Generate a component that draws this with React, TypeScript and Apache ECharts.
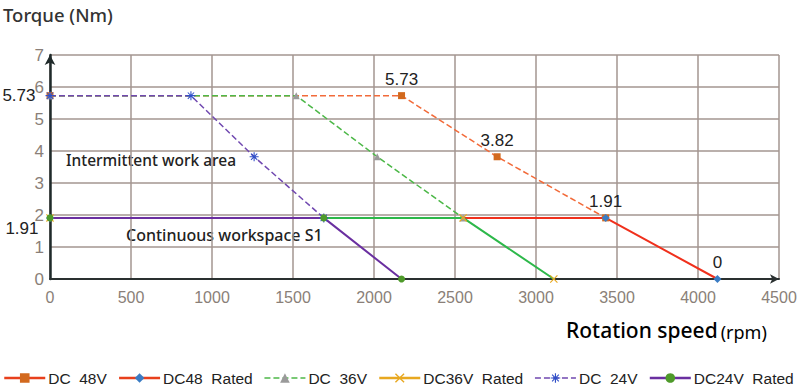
import React, { useEffect, useRef } from "react";
import * as echarts from "echarts";

const seriesNames = ["DC  48V", "DC48  Rated", "DC  36V", "DC36V  Rated", "DC  24V", "DC24V  Rated"];
const dc48: [number, number][] = [[0, 5.73], [2170, 5.73], [2760, 3.82], [3430, 1.91]];
const dc48Rated: [number, number][] = [[0, 1.91], [3430, 1.91], [4120, 0]];
const dc36: [number, number][] = [[0, 5.73], [1520, 5.73], [2020, 3.82], [2550, 1.91]];
const dc36Rated: [number, number][] = [[0, 1.91], [2550, 1.91], [3110, 0]];
const dc24: [number, number][] = [[0, 5.73], [870, 5.73], [1260, 3.82], [1690, 1.91]];
const dc24Rated: [number, number][] = [[0, 1.91], [1690, 1.91], [2170, 0]];

const xMax = 4500;
const xInterval = 500;
const yMax = 7;
const yInterval = 1;

const FONT = "'Noto Sans', sans-serif";
const ARIAL = "'Liberation Sans', Arial, sans-serif";

const xSymbol = "path://M0,1 L1,0 L5,4 L9,0 L10,1 L6,5 L10,9 L9,10 L5,6 L1,10 L0,9 L4,5 Z";
const starSymbol =
  "path://M4.4,0 L5.6,0 L5.6,3.6 L8.1,1.1 L8.9,1.9 L6.4,4.4 L10,4.4 L10,5.6 L6.4,5.6 L8.9,8.1 L8.1,8.9 L5.6,6.4 L5.6,10 L4.4,10 L4.4,6.4 L1.9,8.9 L1.1,8.1 L3.6,5.6 L0,5.6 L0,4.4 L3.6,4.4 L1.1,1.9 L1.9,1.1 L4.4,3.6 Z";

const labelStyle = { color: "#222", fontSize: 17, fontFamily: ARIAL };

function withLabels(data: [number, number][], labels: Record<number, any>) {
  return data.map((d, i) => (labels[i] ? { value: d, label: { show: true, ...labelStyle, ...labels[i] } } : { value: d }));
}

export default function App() {
  const ref = useRef<HTMLDivElement>(null);
  useEffect(() => {
    if (!ref.current) return;
    const chart = echarts.init(ref.current, null, { renderer: "svg" });
    const option: any = {
      animation: false,
      backgroundColor: "#fff",
      grid: { left: 50, right: 21, top: 55, bottom: 106, containLabel: false },
      title: {
        text: "Torque (Nm)",
        left: -2,
        top: 0,
        textStyle: { fontFamily: FONT, fontSize: 18.5, fontWeight: 500, color: "#333" },
      },
      graphic: [
        {
          type: "text",
          left: 566,
          top: 319,
          style: {
            text: "{a|Rotation speed}{b|(rpm)}",
            rich: {
              a: { fontFamily: FONT, fontSize: 21, fontWeight: 500, color: "#333" },
              b: { fontFamily: FONT, fontSize: 18, color: "#333", padding: [4, 0, 0, 3] },
            },
          },
        },
        {
          type: "text",
          left: 66,
          top: 152,
          style: { text: "Intermittent work area", fontFamily: FONT, fontSize: 15.5, fontWeight: 500, fill: "#222" },
        },
        {
          type: "text",
          left: 126,
          top: 227,
          style: { text: "Continuous workspace S1", fontFamily: FONT, fontSize: 16, fontWeight: 500, fill: "#222" },
        },
      ],
      legend: {
        left: 3,
        top: 370,
        padding: 0,
        itemWidth: 41,
        itemHeight: 12,
        itemGap: 11,
        textStyle: { fontFamily: ARIAL, fontSize: 15.5, color: "#222", padding: [0, 0, 0, -2] },
        data: [
          { name: seriesNames[0], lineStyle: { color: "#E8401C", type: "solid", width: 2.5 } },
          { name: seriesNames[1], lineStyle: { color: "#E8401C", type: "solid", width: 2.5 } },
          { name: seriesNames[2], lineStyle: { color: "#4DB848", type: "dashed", width: 1.5 } },
          { name: seriesNames[3], lineStyle: { color: "#E8A820", type: "solid", width: 2.5 } },
          { name: seriesNames[4], lineStyle: { color: "#7048B0", type: "dashed", width: 1.5 } },
          { name: seriesNames[5], lineStyle: { color: "#6A2FA0", type: "solid", width: 2.5 } },
        ],
      },
      xAxis: {
        type: "value",
        min: 0,
        max: xMax,
        interval: xInterval,
        axisLine: { show: true, lineStyle: { color: "#2A3030", width: 2 }, symbol: ["none", "arrow"], symbolSize: [7, 9] },
        axisTick: { show: false },
        axisLabel: { color: "#8A7F78", fontSize: 16, fontFamily: ARIAL, margin: 10, formatter: (v: number) => String(v) },
        splitLine: { show: true, lineStyle: { color: "#A39690", width: 1.5 } },
      },
      yAxis: {
        type: "value",
        min: 0,
        max: yMax,
        interval: yInterval,
        axisLine: { show: true, lineStyle: { color: "#1F2A2A", width: 2.5 }, symbol: ["none", "arrow"], symbolSize: [8, 10] },
        axisTick: { show: false },
        axisLabel: { color: "#8A7F78", fontSize: 17, fontFamily: ARIAL, margin: 6 },
        splitLine: { show: true, lineStyle: { color: "#A39690", width: 1.5 } },
      },
      series: [
        {
          name: seriesNames[0],
          type: "line",
          data: withLabels(dc48, { 1: { position: "top", distance: 4 }, 2: { position: "top", distance: 4 }, 3: { position: "top", distance: 4 } }),
          symbol: "rect",
          symbolSize: 7,
          itemStyle: { color: "#D2691E" },
          lineStyle: { color: "#F26B3A", type: "dashed", width: 1.5 },
          label: { formatter: (p: any) => p.value[1].toFixed(2) },
        },
        {
          name: seriesNames[1],
          type: "line",
          data: withLabels(dc48Rated, { 2: { position: "top", distance: 4, formatter: "0" } }),
          symbol: "diamond",
          symbolSize: 8,
          itemStyle: { color: "#3A7CC4" },
          lineStyle: { color: "#F0301C", type: "solid", width: 2 },
        },
        {
          name: seriesNames[2],
          type: "line",
          data: dc36,
          symbol: "triangle",
          symbolSize: 7,
          itemStyle: { color: "#9A9A9A" },
          lineStyle: { color: "#4DB848", type: "dashed", width: 1.5 },
        },
        {
          name: seriesNames[3],
          type: "line",
          data: dc36Rated,
          symbol: xSymbol,
          symbolSize: 8,
          itemStyle: { color: "#E8A820" },
          lineStyle: { color: "#2DB84A", type: "solid", width: 2 },
        },
        {
          name: seriesNames[4],
          type: "line",
          data: withLabels(dc24, { 0: { position: "left", distance: 10 } }),
          symbol: starSymbol,
          symbolSize: 9,
          itemStyle: { color: "#3050C8" },
          lineStyle: { color: "#7048B0", type: "dashed", width: 1.5 },
          label: { formatter: (p: any) => p.value[1].toFixed(2) },
        },
        {
          name: seriesNames[5],
          type: "line",
          data: withLabels(dc24Rated, { 0: { position: "left", distance: 8, offset: [0, 11] } }),
          symbol: "circle",
          symbolSize: 7,
          itemStyle: { color: "#4E9A2A" },
          lineStyle: { color: "#6A2FA0", type: "solid", width: 2 },
          label: { formatter: (p: any) => p.value[1].toFixed(2) },
        },
      ],
    };
    chart.setOption(option);
    return () => chart.dispose();
  }, []);
  return <div ref={ref} style={{ width: 800, height: 385, position: "absolute", left: 0, top: 0 }} />;
}
